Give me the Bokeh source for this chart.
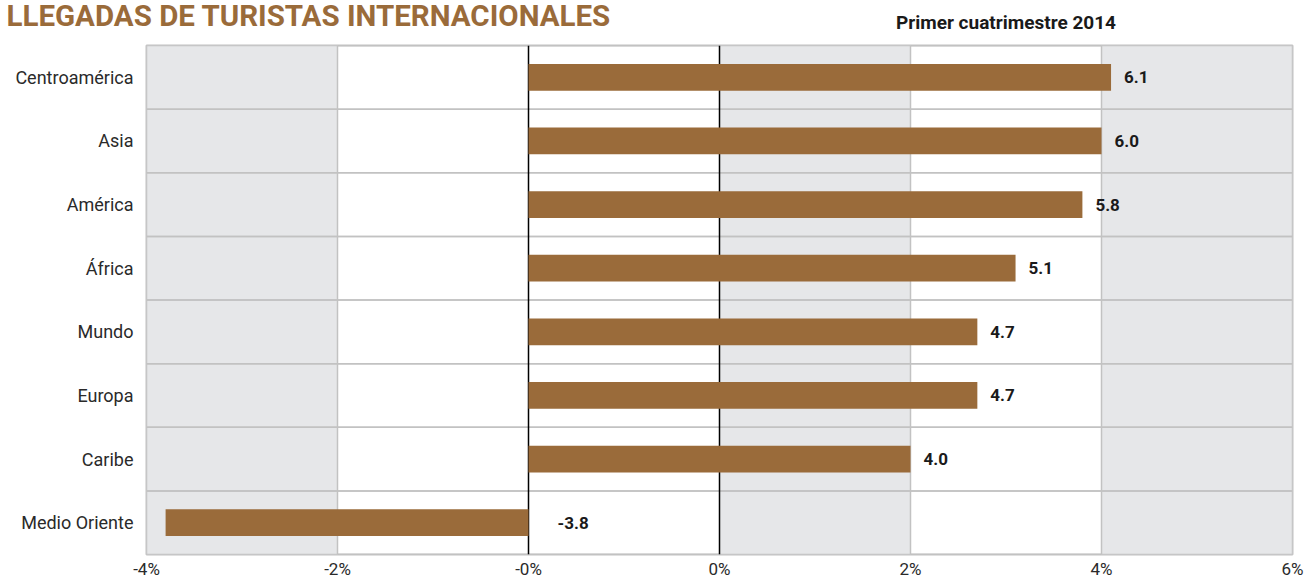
from bokeh.plotting import figure
from bokeh.models import FactorRange, Range1d, FixedTicker, ColumnDataSource, LinearAxis
from bokeh.core.properties import value
from bokeh.embed import file_html
from bokeh.resources import INLINE

# ---- data ----
categories = ["Centroamérica", "Asia", "América", "África", "Mundo", "Europa", "Caribe", "Medio Oriente"]
values = [6.1, 6.0, 5.8, 5.1, 4.7, 4.7, 4.0, -3.8]
tick_vals = [-4, -2, 0, 2, 4, 6, 8]
tick_labels = ["-4%", "-2%", "-0%", "0%", "2%", "4%", "6%"]
band_shaded = [True, False, False, True, False, True]
title_text = "LLEGADAS DE TURISTAS INTERNACIONALES"
subtitle_text = "Primer cuatrimestre 2014"
subtitle_at = 5.0

BAR = "#9A6B3A"
GRID = "#C2C2C2"
BAND = "#E6E7E9"
FONT = "Roboto"

ncat = len(categories)
p = figure(y_range=FactorRange(*reversed(categories)), x_range=Range1d(tick_vals[0], tick_vals[-1]),
           width=1305, height=581, output_backend="svg", toolbar_location=None,
           min_border_left=146, min_border_right=13, min_border_top=45, min_border_bottom=23)
p.background_fill_color = "white"
p.outline_line_color = GRID
p.outline_line_width = 2
p.xgrid.visible = False
p.ygrid.visible = False

# main title
p.title.text = title_text
p.title.align = "left"
p.title.offset = -140
p.title.standoff = -51
p.title.text_font = FONT
p.title.text_font_style = "bold"
p.title.text_font_size = "29.5px"
p.title.text_color = BAR

# vertical bands
bl = [tick_vals[i] for i in range(len(band_shaded)) if band_shaded[i]]
br = [tick_vals[i + 1] for i in range(len(band_shaded)) if band_shaded[i]]
p.quad(left=bl, right=br, bottom=0, top=ncat, fill_color=BAND, line_color=None)

# horizontal separators (category band outlines)
p.hbar(y=categories, left=tick_vals[0], right=tick_vals[-1], height=1.0,
       fill_color=None, line_color=GRID, line_width=1.5)

# vertical grid lines
inner = tick_vals[1:-1]
inner_lab = tick_labels[1:-1]
gx = [t for t, l in zip(inner, inner_lab) if l not in ("-0%", "0%")]
kx = [t for t, l in zip(inner, inner_lab) if l in ("-0%", "0%")]
p.segment(x0=gx, x1=gx, y0=0, y1=ncat, line_color=GRID, line_width=1.5)
p.segment(x0=kx, x1=kx, y0=0, y1=ncat, line_color="black", line_width=1.5)

# bars
src = ColumnDataSource(dict(
    cat=categories, val=values,
    lx=[v if v > 0 else 0 for v in values],
    off=[13 if v > 0 else 29 for v in values],
    txt=["%.1f" % v for v in values],
))
p.hbar(y="cat", left=0, right="val", height=0.42, fill_color=BAR, line_color=None, source=src)
p.text(x="lx", y="cat", text="txt", x_offset="off", source=src, text_baseline="middle",
       text_font=value(FONT), text_font_style="bold", text_font_size="17px", text_color="#1a1a1a")

# axes
p.xaxis.ticker = FixedTicker(ticks=tick_vals)
p.xaxis.major_label_overrides = {t: l for t, l in zip(tick_vals, tick_labels)}
for ax in (p.xaxis[0], p.yaxis[0]):
    ax.axis_line_color = None
    ax.major_tick_line_color = None
    ax.minor_tick_line_color = None
    ax.major_tick_out = 0
    ax.major_tick_in = 0
    ax.major_label_text_font = FONT
    ax.major_label_text_color = "#2a2a2a"
p.xaxis.major_label_text_font_size = "17px"
p.xaxis.major_label_standoff = 4
p.yaxis.major_label_text_font_size = "18px"
p.yaxis.major_label_standoff = 13

# subtitle as a top axis label
sub_ax = LinearAxis(ticker=FixedTicker(ticks=[subtitle_at]),
                    major_label_overrides={subtitle_at: subtitle_text},
                    axis_line_color=None, major_tick_line_color=None, minor_tick_line_color=None,
                    major_tick_out=0, major_tick_in=0,
                    major_label_text_font=FONT, major_label_text_font_style="bold",
                    major_label_text_font_size="19px", major_label_text_color="#1a1a1a",
                    major_label_standoff=12)
p.add_layout(sub_ax, "above")

open("out.html", "w").write(file_html(p, INLINE))
